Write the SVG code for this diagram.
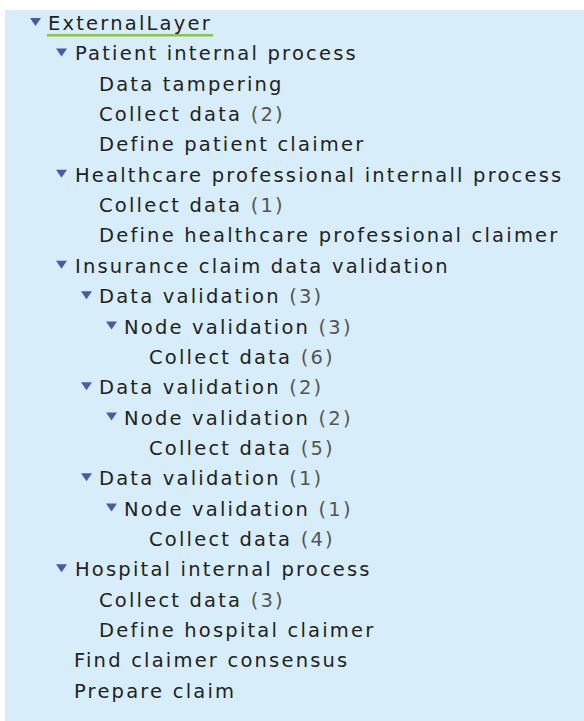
<svg xmlns="http://www.w3.org/2000/svg" width="584" height="721" viewBox="0 0 584 721">
<style>
text{font-family:"DejaVu Sans","Verdana",sans-serif;font-size:19.5px;letter-spacing:2.2px;fill:#222}
.n{fill:#555}
.tri{fill:#4b5aa8}
</style>
<defs>
<path id="tri" class="tri" d="M0,0 L11,0 L5.5,8 Z"/>
</defs>
<rect x="5" y="10" width="579" height="711" fill="#d7eefa"/>
<g id="nodes">
<g id="n0"><use href="#tri" x="30" y="18"/><text x="48" y="30">ExternalLayer</text><rect x="47" y="34" width="166" height="2.5" fill="#8bc34a"/></g>
<g id="n1"><use href="#tri" x="56" y="48.4"/><text x="75" y="60.35">Patient internal process</text></g>
<g id="n2"><text x="99" y="90.7">Data tampering</text></g>
<g id="n3"><text x="99" y="121.05">Collect data <tspan class="n">(2)</tspan></text></g>
<g id="n4"><text x="99" y="151.4">Define patient claimer</text></g>
<g id="n5"><use href="#tri" x="56" y="169.8"/><text x="75" y="181.75">Healthcare professional internall process</text></g>
<g id="n6"><text x="99" y="212.1">Collect data <tspan class="n">(1)</tspan></text></g>
<g id="n7"><text x="99" y="242.45">Define healthcare professional claimer</text></g>
<g id="n8"><use href="#tri" x="56" y="260.8"/><text x="75" y="272.8">Insurance claim data validation</text></g>
<g id="n9"><use href="#tri" x="81" y="291.2"/><text x="99" y="303.15">Data validation <tspan class="n">(3)</tspan></text></g>
<g id="n10"><use href="#tri" x="106" y="321.5"/><text x="124" y="333.5">Node validation <tspan class="n">(3)</tspan></text></g>
<g id="n11"><text x="149" y="363.85">Collect data <tspan class="n">(6)</tspan></text></g>
<g id="n12"><use href="#tri" x="81" y="382.2"/><text x="99" y="394.2">Data validation <tspan class="n">(2)</tspan></text></g>
<g id="n13"><use href="#tri" x="106" y="412.5"/><text x="124" y="424.55">Node validation <tspan class="n">(2)</tspan></text></g>
<g id="n14"><text x="149" y="454.9">Collect data <tspan class="n">(5)</tspan></text></g>
<g id="n15"><use href="#tri" x="81" y="473.2"/><text x="99" y="485.25">Data validation <tspan class="n">(1)</tspan></text></g>
<g id="n16"><use href="#tri" x="106" y="503.6"/><text x="124" y="515.6">Node validation <tspan class="n">(1)</tspan></text></g>
<g id="n17"><text x="149" y="545.95">Collect data <tspan class="n">(4)</tspan></text></g>
<g id="n18"><use href="#tri" x="56" y="564.3"/><text x="75" y="576.3">Hospital internal process</text></g>
<g id="n19"><text x="99" y="606.65">Collect data <tspan class="n">(3)</tspan></text></g>
<g id="n20"><text x="99" y="637">Define hospital claimer</text></g>
<g id="n21"><text x="74" y="667.35">Find claimer consensus</text></g>
<g id="n22"><text x="74" y="697.7">Prepare claim</text></g>
</g>
<g id="connectors"></g>
</svg>
